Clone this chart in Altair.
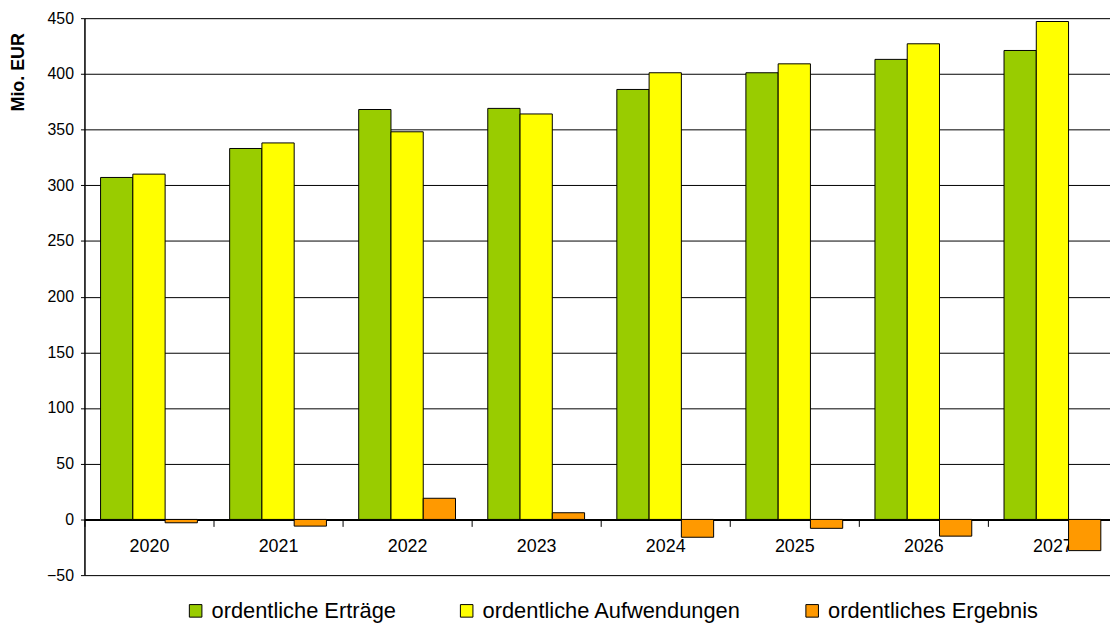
import altair as alt
import pandas as pd

years = ["2020", "2021", "2022", "2023", "2024", "2025", "2026", "2027"]
ertraege = [307, 333, 368, 369, 386, 401, 413, 421]
aufwendungen = [310, 338, 348, 364, 401, 409, 427, 447]
ergebnis = [-3, -6, 19, 6, -16, -8, -15, -28]
series = ["ordentliche Erträge", "ordentliche Aufwendungen", "ordentliches Ergebnis"]
colors = ["#99CC00", "#FFFF00", "#FF9900"]
y_ticks = [-50, 0, 50, 100, 150, 200, 250, 300, 350, 400, 450]

rows = []
for i, yr in enumerate(years):
    for s, vals in zip(series, [ertraege, aufwendungen, ergebnis]):
        rows.append({"Jahr": yr, "Reihe": s, "Wert": vals[i]})
df = pd.DataFrame(rows)

FONT = "Liberation Sans"

bars = alt.Chart(df).mark_bar(stroke="black", strokeWidth=1).encode(
    x=alt.X(
        "Jahr:N",
        sort=years,
        scale=alt.Scale(paddingInner=0, paddingOuter=0, range=[0, 1040]),
        axis=alt.Axis(
            title=None,
            labelAngle=0,
            labelFontSize=18,
            labelFont=FONT,
            labelColor="black",
            labelPadding=11,
            offset=-56.1,
            domainColor="black",
            domainWidth=2,
            tickColor="black",
            tickWidth=1,
            tickSize=7,
            tickBand="extent",
            grid=False,
        ),
    ),
    xOffset=alt.XOffset(
        "Reihe:N", sort=series, scale=alt.Scale(paddingInner=0, paddingOuter=0.5)
    ),
    y=alt.Y(
        "Wert:Q",
        scale=alt.Scale(domain=[-50, 450], nice=False, zero=False),
        axis=alt.Axis(
            title="Mio. EUR",
            titleFont=FONT,
            titleFontSize=18,
            titleFontWeight="bold",
            titleColor="black",
            titleAngle=270,
            titleAlign="center",
            titleBaseline="middle",
            titleX=-66,
            titleY=54,
            values=y_ticks,
            labelFont=FONT,
            labelFontSize=16,
            labelColor="black",
            labelPadding=7,
            tickSize=4,
            tickColor="black",
            domainColor="black",
            domainWidth=1.5,
            grid=True,
            gridColor="black",
            gridWidth=1,
            gridOpacity=1,
        ),
    ),
    color=alt.Color(
        "Reihe:N",
        sort=series,
        scale=alt.Scale(domain=series, range=colors),
        legend=alt.Legend(
            title=None,
            orient="none",
            direction="horizontal",
            columns=3,
            legendX=101,
            legendY=586,
            padding=0,
            symbolType="square",
            symbolSize=160,
            symbolStrokeColor="black",
            symbolStrokeWidth=1,
            symbolOpacity=1,
            labelFont=FONT,
            labelFontSize=22,
            labelColor="black",
            labelOffset=5,
            labelLimit=0,
            columnPadding=60,
        ),
    ),
)

chart = bars.properties(
    width=1033,
    height=561,
    autosize=alt.AutoSizeParams(type="none"),
    padding={"left": 77, "top": 8, "right": 0, "bottom": 49},
).configure_view(stroke=None).configure(background="white")

chart.save("out.html", embed_options={"renderer": "svg", "actions": False})
